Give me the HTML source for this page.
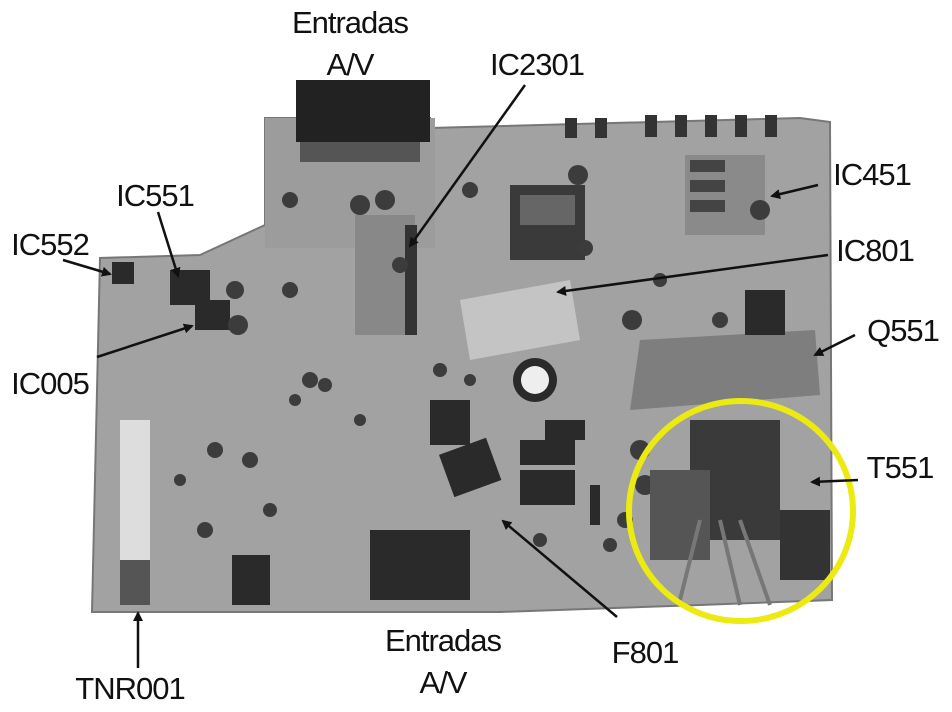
<!DOCTYPE html>
<html><head><meta charset="utf-8"><style>
html,body{margin:0;padding:0;background:#fff;width:952px;height:712px;overflow:hidden}
svg{display:block}
text{font-family:"Liberation Sans",sans-serif;font-size:31px;fill:#111;letter-spacing:-1px}
</style></head><body>
<svg width="952" height="712" viewBox="0 0 952 712" xmlns="http://www.w3.org/2000/svg">
<defs>
<marker id="a" markerWidth="10" markerHeight="10" refX="8" refY="5" orient="auto" markerUnits="userSpaceOnUse"><path d="M0,0 L10,5 L0,10 Z" fill="#111"/></marker>
</defs>
<polygon points="265,118 430,118 430,128 800,118 830,122 832,600 700,605 500,612 92,612 100,258 200,255 265,225" fill="#a2a2a2" stroke="#777" stroke-width="2"/>
<rect x="265" y="118" width="170" height="130" fill="#9c9c9c"/>
<rect x="296" y="80" width="134" height="62" fill="#222"/>
<rect x="300" y="142" width="120" height="20" fill="#555"/>
<g fill="#333">
<rect x="565" y="118" width="12" height="20"/><rect x="595" y="118" width="12" height="20"/><rect x="645" y="115" width="12" height="22"/><rect x="675" y="115" width="12" height="22"/><rect x="705" y="115" width="12" height="22"/><rect x="735" y="115" width="12" height="22"/><rect x="765" y="115" width="12" height="22"/>
</g>
<rect x="685" y="155" width="80" height="80" fill="#8a8a8a"/>
<rect x="690" y="160" width="35" height="12" fill="#444"/><rect x="690" y="180" width="35" height="12" fill="#444"/><rect x="690" y="200" width="35" height="12" fill="#444"/>
<rect x="510" y="185" width="75" height="75" fill="#3a3a3a"/>
<rect x="520" y="195" width="55" height="30" fill="#666"/>
<rect x="355" y="215" width="60" height="120" fill="#888"/>
<rect x="405" y="225" width="12" height="110" fill="#333"/>
<polygon points="460,300 570,280 580,340 470,360" fill="#c4c4c4"/>
<polygon points="640,340 815,330 820,395 630,410" fill="#7e7e7e"/>
<g fill="#2a2a2a">
<rect x="112" y="262" width="22" height="22"/>
<rect x="170" y="270" width="40" height="35"/>
<rect x="195" y="300" width="35" height="30"/>
<rect x="745" y="290" width="40" height="45"/>
<rect x="430" y="400" width="40" height="45"/>
<rect x="445" y="445" width="50" height="45" transform="rotate(-20 470 467)"/>
<rect x="520" y="440" width="55" height="25"/>
<rect x="520" y="470" width="55" height="35"/>
<rect x="545" y="420" width="40" height="20"/>
<rect x="370" y="530" width="100" height="70"/>
<rect x="232" y="555" width="38" height="50"/>
<rect x="590" y="485" width="10" height="40"/>
</g>
<rect x="120" y="420" width="30" height="140" fill="#ddd"/>
<rect x="120" y="560" width="30" height="45" fill="#555"/>
<g fill="#3c3c3c">
<circle cx="385" cy="200" r="10"/><circle cx="360" cy="205" r="10"/><circle cx="470" cy="190" r="8"/><circle cx="578" cy="175" r="10"/>
<circle cx="235" cy="290" r="9"/><circle cx="238" cy="325" r="10"/><circle cx="290" cy="290" r="8"/><circle cx="632" cy="320" r="10"/>
<circle cx="250" cy="460" r="8"/><circle cx="215" cy="450" r="8"/><circle cx="205" cy="530" r="8"/><circle cx="310" cy="380" r="8"/>
<circle cx="640" cy="450" r="10"/><circle cx="645" cy="485" r="10"/><circle cx="290" cy="200" r="8"/><circle cx="760" cy="210" r="10"/>
<circle cx="400" cy="265" r="8"/><circle cx="325" cy="385" r="7"/><circle cx="295" cy="400" r="6"/><circle cx="440" cy="370" r="7"/><circle cx="470" cy="380" r="6"/>
<circle cx="585" cy="248" r="8"/><circle cx="625" cy="520" r="8"/><circle cx="610" cy="545" r="7"/><circle cx="270" cy="510" r="7"/><circle cx="180" cy="480" r="6"/>
<circle cx="360" cy="420" r="6"/><circle cx="540" cy="540" r="7"/><circle cx="720" cy="320" r="8"/><circle cx="660" cy="280" r="7"/>
</g>
<circle cx="535" cy="380" r="22" fill="#2a2a2a"/><circle cx="535" cy="380" r="14" fill="#eee"/>
<rect x="690" y="420" width="90" height="120" fill="#3a3a3a"/>
<rect x="650" y="470" width="60" height="90" fill="#555"/>
<rect x="780" y="510" width="50" height="70" fill="#333"/>
<path d="M700,520 L680,600 M720,520 L740,605 M740,520 L770,605" stroke="#777" stroke-width="4" fill="none"/>
<ellipse cx="741" cy="511" rx="112" ry="110" fill="none" stroke="#ecea10" stroke-width="6"/>
<g stroke="#111" stroke-width="2.5" fill="none" marker-end="url(#a)">
<line x1="525" y1="85" x2="410" y2="246"/>
<line x1="158" y1="212" x2="178" y2="276"/>
<line x1="63" y1="260" x2="110" y2="274"/>
<line x1="97" y1="357" x2="192" y2="326"/>
<line x1="818" y1="185" x2="772" y2="196"/>
<line x1="828" y1="255" x2="558" y2="292"/>
<line x1="855" y1="335" x2="815" y2="355"/>
<line x1="858" y1="480" x2="812" y2="482"/>
<line x1="617" y1="617" x2="503" y2="521"/>
<line x1="138" y1="668" x2="138" y2="613"/>
</g>
<text x="350" y="33" text-anchor="middle">Entradas</text>
<text x="350" y="75" text-anchor="middle">A/V</text>
<text x="537" y="75" text-anchor="middle">IC2301</text>
<text x="155" y="206" text-anchor="middle">IC551</text>
<text x="50" y="255" text-anchor="middle">IC552</text>
<text x="872" y="185" text-anchor="middle">IC451</text>
<text x="875" y="261" text-anchor="middle">IC801</text>
<text x="903" y="341" text-anchor="middle">Q551</text>
<text x="50" y="394" text-anchor="middle">IC005</text>
<text x="900" y="478" text-anchor="middle">T551</text>
<text x="443" y="651" text-anchor="middle">Entradas</text>
<text x="443" y="693" text-anchor="middle">A/V</text>
<text x="645" y="663" text-anchor="middle">F801</text>
<text x="130" y="699" text-anchor="middle">TNR001</text>
</svg>
</body></html>
